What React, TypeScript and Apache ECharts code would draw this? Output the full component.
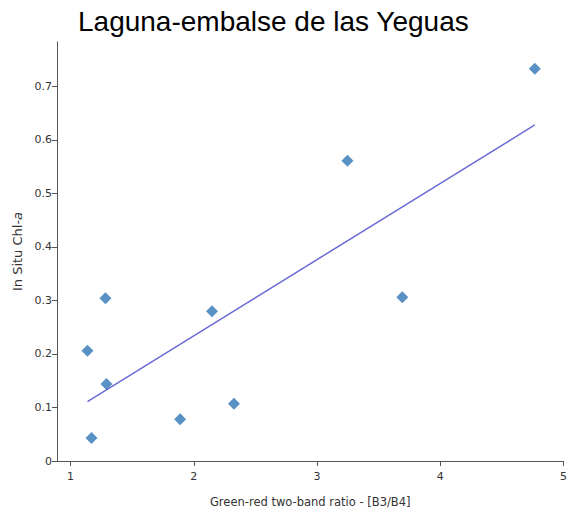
import React, { useEffect, useRef } from "react";
import * as echarts from "echarts";

const pointsX = [1.137, 1.283, 1.291, 1.17, 1.889, 2.148, 2.326, 3.247, 3.692, 4.767];
const pointsY = [0.206, 0.304, 0.144, 0.043, 0.078, 0.28, 0.107, 0.561, 0.306, 0.733];
const trendX = [1.137, 4.767];
const trendY = [0.111, 0.628];
const xTicks = [1, 2, 3, 4, 5];
const yTicks = [0, 0.1, 0.2, 0.3, 0.4, 0.5, 0.6, 0.7];

export default function App() {
  const ref = useRef<HTMLDivElement>(null);
  useEffect(() => {
    if (!ref.current) return;
    const chart = echarts.init(ref.current, null, { renderer: "svg" });
    const axisColor = "#555";
    const labelFont = "DejaVu Sans, Verdana, sans-serif";
    chart.setOption({
      animation: false,
      backgroundColor: "#fff",
      title: {
        text: "Laguna-embalse de las Yeguas",
        left: 73,
        top: 2,
        textStyle: {
          fontFamily: "Liberation Sans, Arial, sans-serif",
          fontSize: 28,
          fontWeight: "normal",
          color: "#000",
        },
      },
      grid: { left: 57, right: 2, top: 42, bottom: 48, containLabel: false },
      xAxis: {
        type: "value",
        min: 0.89,
        max: 5.0,
        name: "Green-red two-band ratio - [B3/B4]",
        nameLocation: "middle",
        nameGap: 35,
        nameTextStyle: { fontFamily: labelFont, fontSize: 11.5, color: "#333" },
        splitLine: { show: false },
        axisLine: { show: true, lineStyle: { color: axisColor } },
        axisTick: { show: true, length: 5, lineStyle: { color: axisColor }, customValues: xTicks },
        axisLabel: {
          customValues: xTicks,
          fontFamily: labelFont,
          fontSize: 11,
          color: "#333",
          margin: 10,
        },
      },
      yAxis: {
        type: "value",
        min: 0,
        max: 0.783,
        name: "In Situ Chl-{i|a}",
        nameLocation: "middle",
        nameGap: 33,
        nameTextStyle: {
          fontFamily: labelFont,
          fontSize: 13,
          color: "#333",
          rich: { i: { fontStyle: "italic", fontFamily: labelFont, fontSize: 13, color: "#333" } },
        },
        splitLine: { show: false },
        axisLine: { show: true, lineStyle: { color: axisColor } },
        axisTick: { show: true, length: 5, lineStyle: { color: axisColor }, customValues: yTicks },
        axisLabel: {
          customValues: yTicks,
          fontFamily: labelFont,
          fontSize: 11,
          color: "#333",
          margin: 5,
          formatter: (v: number) => (v === 0 ? "0" : v.toFixed(1)),
        },
      },
      series: [
        {
          type: "line",
          data: trendX.map((x, i) => [x, trendY[i]]),
          showSymbol: false,
          symbol: "none",
          lineStyle: { color: "#6a6ad8", width: 1.5 },
          z: 1,
        },
        {
          type: "scatter",
          data: pointsX.map((x, i) => [x, pointsY[i]]),
          symbol: "diamond",
          symbolSize: 12,
          itemStyle: { color: "#2f75b5" },
          z: 2,
        },
      ],
    });
    return () => chart.dispose();
  }, []);
  return (
    <div
      ref={ref}
      style={{ position: "fixed", left: 0, top: 0, width: 570, height: 513 }}
    />
  );
}
